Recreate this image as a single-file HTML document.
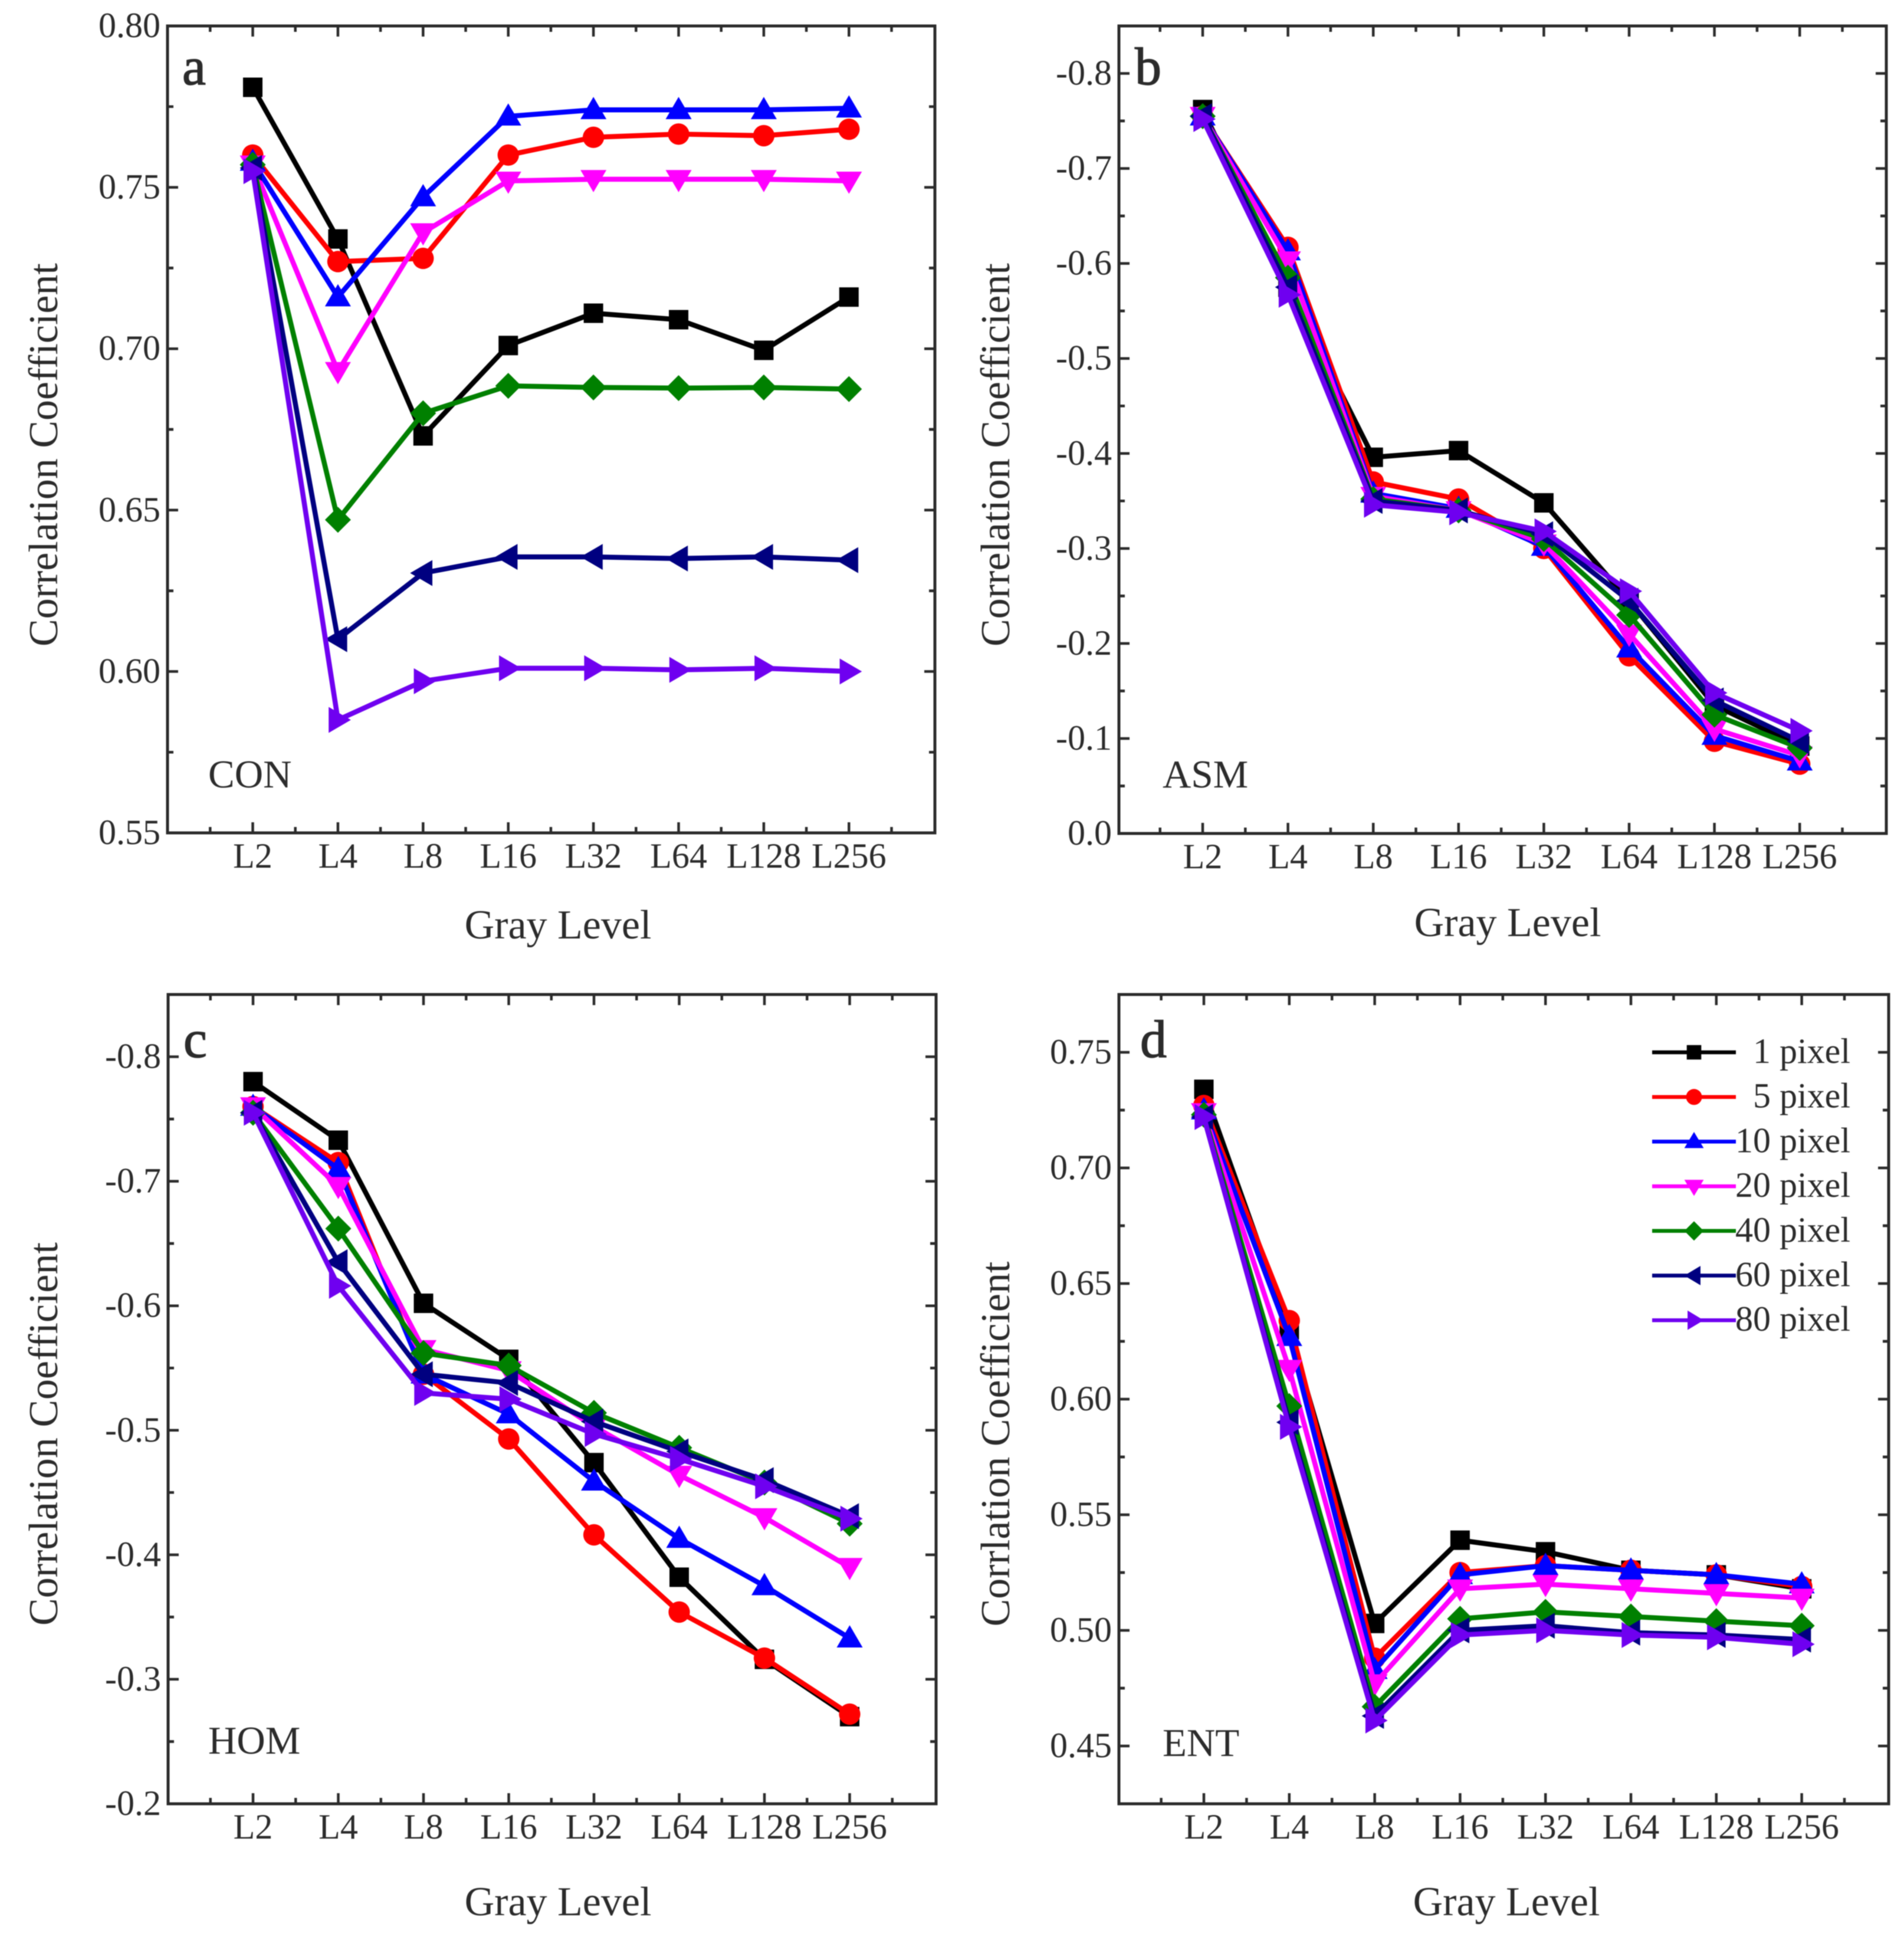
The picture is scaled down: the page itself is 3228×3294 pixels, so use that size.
<!DOCTYPE html>
<html lang="en">
<head>
<meta charset="utf-8">
<title>Correlation Coefficient vs Gray Level</title>
<style>
html,body{margin:0;padding:0;background:#fff;}
svg{display:block;filter:blur(0.9px);}
text{font-family:"Liberation Serif",serif;fill:#2b2b2b;}
</style>
</head>
<body>
<svg id="figure" xmlns="http://www.w3.org/2000/svg" width="3228" height="3294" viewBox="0 0 3228 3294"></svg>
<script>
const categories = ["L2","L4","L8","L16","L32","L64","L128","L256"];
const seriesNames = ["1 pixel","5 pixel","10 pixel","20 pixel","40 pixel","60 pixel","80 pixel"];
const seriesColors = ["#000000","#ff0000","#0000ff","#ff00ff","#008000","#000080","#6f00f0"];
const seriesMarkers = ["square","circle","up","down","diamond","left","right"];

const conTicks = ["0.55","0.60","0.65","0.70","0.75","0.80"];
const con1  = [0.781,0.734,0.673,0.701,0.711,0.709,0.6995,0.716];
const con5  = [0.760,0.727,0.728,0.760,0.7655,0.7665,0.766,0.768];
const con10 = [0.758,0.716,0.747,0.772,0.774,0.774,0.774,0.7745];
const con20 = [0.757,0.693,0.736,0.752,0.7525,0.7525,0.7525,0.752];
const con40 = [0.757,0.647,0.680,0.6885,0.688,0.6878,0.688,0.6875];
const con60 = [0.756,0.610,0.6305,0.6355,0.6355,0.635,0.6355,0.6345];
const con80 = [0.755,0.585,0.597,0.601,0.601,0.6005,0.601,0.600];

const asmTicks = ["0.0","-0.1","-0.2","-0.3","-0.4","-0.5","-0.6","-0.7","-0.8"];
const asm1  = [-0.762,-0.575,-0.396,-0.403,-0.348,-0.245,-0.135,-0.092];
const asm5  = [-0.755,-0.617,-0.370,-0.352,-0.300,-0.187,-0.097,-0.073];
const asm10 = [-0.755,-0.613,-0.358,-0.342,-0.302,-0.195,-0.103,-0.076];
const asm20 = [-0.755,-0.603,-0.355,-0.340,-0.305,-0.210,-0.110,-0.082];
const asm40 = [-0.755,-0.585,-0.352,-0.340,-0.310,-0.230,-0.125,-0.090];
const asm60 = [-0.755,-0.575,-0.350,-0.340,-0.315,-0.245,-0.140,-0.097];
const asm80 = [-0.752,-0.567,-0.346,-0.338,-0.318,-0.255,-0.148,-0.108];

const homTicks = ["-0.2","-0.3","-0.4","-0.5","-0.6","-0.7","-0.8"];
const hom1  = [-0.780,-0.733,-0.602,-0.557,-0.474,-0.382,-0.316,-0.270];
const hom5  = [-0.760,-0.715,-0.545,-0.493,-0.416,-0.354,-0.317,-0.272];
const hom10 = [-0.760,-0.710,-0.545,-0.513,-0.459,-0.413,-0.375,-0.333];
const hom20 = [-0.760,-0.696,-0.565,-0.548,-0.503,-0.464,-0.430,-0.390];
const hom40 = [-0.755,-0.662,-0.562,-0.552,-0.514,-0.486,-0.458,-0.425];
const hom60 = [-0.755,-0.635,-0.545,-0.538,-0.507,-0.483,-0.460,-0.431];
const hom80 = [-0.755,-0.616,-0.530,-0.525,-0.497,-0.477,-0.455,-0.429];

const entTicks = ["0.45","0.50","0.55","0.60","0.65","0.70","0.75"];
const ent1  = [0.734,0.630,0.503,0.539,0.534,0.526,0.524,0.518];
const ent5  = [0.727,0.634,0.488,0.525,0.528,0.526,0.524,0.519];
const ent10 = [0.725,0.627,0.483,0.524,0.528,0.526,0.524,0.520];
const ent20 = [0.724,0.613,0.477,0.518,0.520,0.518,0.516,0.514];
const ent40 = [0.723,0.597,0.467,0.505,0.508,0.506,0.504,0.502];
const ent60 = [0.722,0.590,0.463,0.500,0.502,0.499,0.498,0.496];
const ent80 = [0.722,0.588,0.461,0.498,0.500,0.498,0.497,0.494];

const NS = "http://www.w3.org/2000/svg";
const root = document.getElementById("figure");

function make(tag, parent, attrs, content) {
  const el = document.createElementNS(NS, tag);
  for (const k in attrs) el.setAttribute(k, attrs[k]);
  if (content !== undefined) el.textContent = content;
  parent.appendChild(el);
  return el;
}

function markerPath(kind, x, y, k) {
  const a = 20 * k, b = 17 * k;
  if (kind === "up") return `M${x} ${y - a}L${x + a} ${y + b - 3}L${x - a} ${y + b - 3}Z`;
  if (kind === "down") return `M${x} ${y + a}L${x + a} ${y - b + 3}L${x - a} ${y - b + 3}Z`;
  if (kind === "left") return `M${x - a} ${y}L${x + b - 3} ${y - a}L${x + b - 3} ${y + a}Z`;
  if (kind === "right") return `M${x + a} ${y}L${x - b + 3} ${y - a}L${x - b + 3} ${y + a}Z`;
  if (kind === "diamond") return `M${x} ${y - a}L${x + a} ${y}L${x} ${y + a}L${x - a} ${y}Z`;
  if (kind === "square") { const s = 15 * k; return `M${x - s} ${y - s}H${x + s}V${y + s}H${x - s}Z`; }
  const r = 16.5 * k;
  return `M${x - r} ${y}A${r} ${r} 0 1 0 ${x + r} ${y}A${r} ${r} 0 1 0 ${x - r} ${y}Z`;
}

function drawPanel(cfg) {
  const g = make("g", root, {});
  
  

  const xScale = i => cfg.xFirst + i * cfg.xStep;
  const yScale = v => cfg.bottom - (v - cfg.yMin) / (cfg.yMax - cfg.yMin) * (cfg.bottom - cfg.top);

  const frame = make("rect", g, {x: cfg.left, y: cfg.top, width: cfg.right - cfg.left, height: cfg.bottom - cfg.top, fill: "#fff", stroke: "#2b2b2b", "stroke-width": 5});
  
  

  // x ticks: major at categories, minor half way between
  for (let i = -1; i < 8; i++) {
    const xMaj = xScale(i);
    if (i >= 0) {
      const t1 = make("path", g, {d: `M${xMaj} ${cfg.bottom}v-18M${xMaj} ${cfg.top}v18`, stroke: "#2b2b2b", "stroke-width": 4.5});
      
      
      const lab = make("text", g, {x: xMaj, y: cfg.bottom + 59, "font-size": 60, "text-anchor": "middle"}, categories[i]);
      
      
    }
    const xMin = xMaj + cfg.xStep / 2;
    const t2 = make("path", g, {d: `M${xMin} ${cfg.bottom}v-10M${xMin} ${cfg.top}v10`, stroke: "#2b2b2b", "stroke-width": 4.5});
    
    
  }

  // y ticks from tick labels
  cfg.ticks.forEach(label => {
    const v = parseFloat(label);
    const y = yScale(v);
    const t1 = make("path", g, {d: `M${cfg.left} ${y}h18M${cfg.right} ${y}h-18`, stroke: "#2b2b2b", "stroke-width": 4.5});
    
    
    const lab = make("text", g, {x: cfg.left - 12, y: y + 19, "font-size": 60, "text-anchor": "end"}, label);
    
    
    const step = cfg.tickStep;
    [v + step / 2, v - step / 2].forEach(m => {
      const yLow = Math.min(cfg.yMin, cfg.yMax), yHigh = Math.max(cfg.yMin, cfg.yMax);
      if (m > yLow + 1e-6 && m < yHigh - 1e-6) {
        const ym = yScale(m);
        const t2 = make("path", g, {d: `M${cfg.left} ${ym}h10M${cfg.right} ${ym}h-10`, stroke: "#2b2b2b", "stroke-width": 4.5});
        
        
      }
    });
  });

  // series
  cfg.series.forEach((values, s) => {
    const sg = make("g", g, {});
    
    
    const pts = values.map((v, i) => xScale(i) + "," + yScale(v)).join(" ");
    const line = make("polyline", sg, {points: pts, fill: "none", stroke: seriesColors[s], "stroke-width": 8.5, "stroke-linejoin": "round"});
    
    
    values.forEach((v, i) => {
      const mk = make("path", sg, {d: markerPath(seriesMarkers[s], xScale(i), yScale(v), 1.1), fill: seriesColors[s]});
      
      
    });
  });

  // titles
  const xt = make("text", g, {x: cfg.xTitleX, y: cfg.xTitleY, "font-size": 70, "text-anchor": "middle"}, "Gray Level");
  
  
  const yt = make("text", g, {transform: `translate(${cfg.yTitleX} ${cfg.yTitleY}) rotate(-90)`, "font-size": 70, "text-anchor": "middle"}, cfg.yTitle);
  
  
  const metric = make("text", g, {x: cfg.nameX, y: cfg.nameY, "font-size": 67}, cfg.name);
  
  
  const letter = make("text", g, {x: cfg.letterX, y: cfg.letterY, "font-size": 90, stroke: "#2b2b2b", "stroke-width": 1.5}, cfg.letter);
  
  
}

drawPanel({key:"con", letter:"a", name:"CON", left:284, right:1585, top:44, bottom:1412, xFirst:428.5, xStep:144.4, yMin:0.55, yMax:0.80,
  ticks:conTicks, tickStep:0.05, series:[con1,con5,con10,con20,con40,con60,con80],
  yTitle:"Correlation Coefficient", xTitleX:946, xTitleY:1591, yTitleX:97, yTitleY:771, nameX:353, nameY:1335, letterX:309, letterY:143});
drawPanel({key:"asm", letter:"b", name:"ASM", left:1897, right:3198, top:44, bottom:1413, xFirst:2039, xStep:144.6, yMin:0, yMax:-0.85,
  ticks:asmTicks, tickStep:0.1, series:[asm1,asm5,asm10,asm20,asm40,asm60,asm80],
  yTitle:"Correlation Coefficient", xTitleX:2556, xTitleY:1587, yTitleX:1711, yTitleY:771, nameX:1971, nameY:1335, letterX:1924, letterY:143});
drawPanel({key:"hom", letter:"c", name:"HOM", left:285, right:1587, top:1686, bottom:3058, xFirst:429, xStep:144.5, yMin:-0.2, yMax:-0.85,
  ticks:homTicks, tickStep:0.1, series:[hom1,hom5,hom10,hom20,hom40,hom60,hom80],
  yTitle:"Correlation Coefficient", xTitleX:946, xTitleY:3247, yTitleX:97, yTitleY:2431, nameX:353, nameY:2973, letterX:311, letterY:1792});
drawPanel({key:"ent", letter:"d", name:"ENT", left:1897, right:3202, top:1686, bottom:3058, xFirst:2041, xStep:144.8, yMin:0.425, yMax:0.775,
  ticks:entTicks, tickStep:0.05, series:[ent1,ent5,ent10,ent20,ent40,ent60,ent80],
  yTitle:"Corrlation Coefficient", xTitleX:2554, xTitleY:3247, yTitleX:1711, yTitleY:2448, nameX:1971, nameY:2977, letterX:1933, letterY:1792});

// legend
const legend = make("g", root, {});


seriesNames.forEach((name, s) => {
  const y = 1784 + s * 75.7;
  const row = make("g", legend, {});
  
  
  const ln = make("line", row, {x1: 2801, x2: 2943, y1: y, y2: y, stroke: seriesColors[s], "stroke-width": 6.5});
  
  
  const mk = make("path", row, {d: markerPath(seriesMarkers[s], 2872, y, 0.82), fill: seriesColors[s]});
  
  
  const tx = make("text", row, {x: 3137, y: y + 18, "font-size": 60, "text-anchor": "end"}, name);
  
  
});
</script>
</body>
</html>
